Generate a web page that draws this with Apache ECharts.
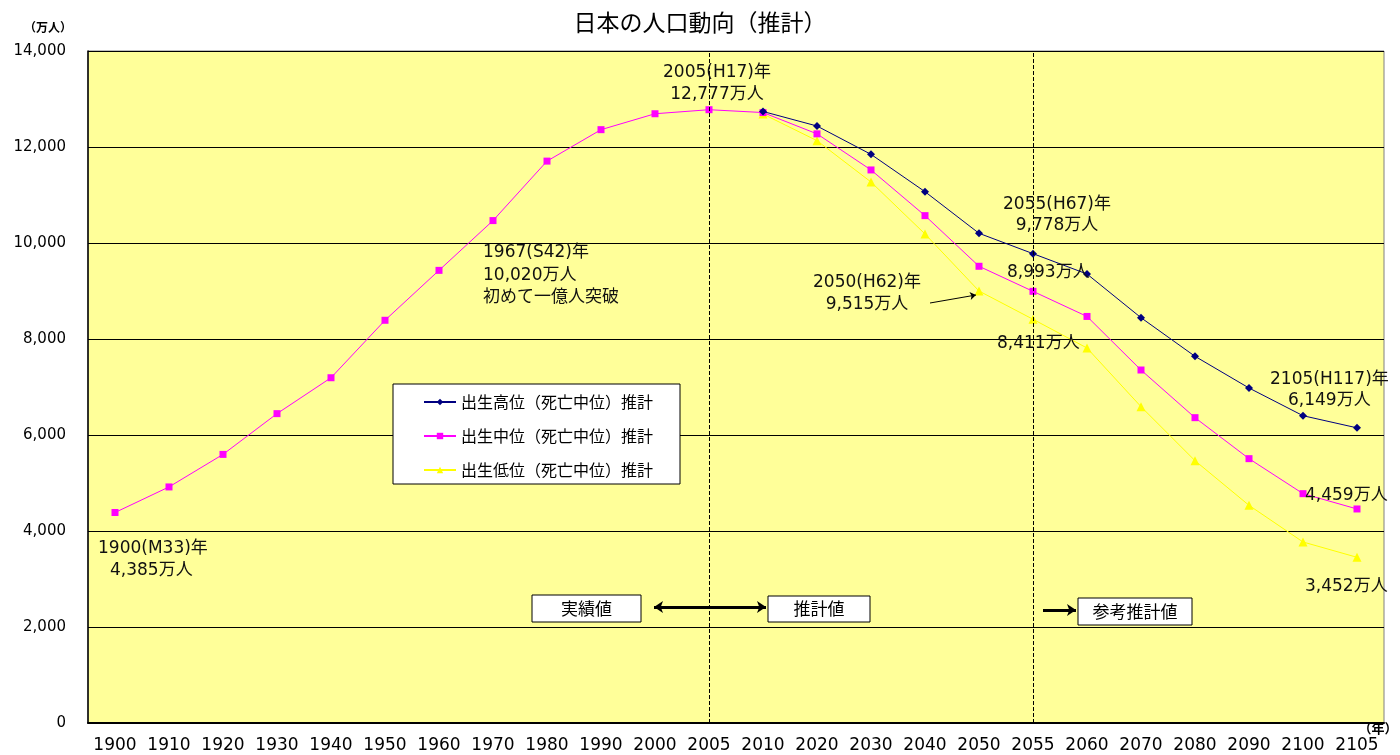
<!DOCTYPE html>
<html>
<head>
<meta charset="utf-8">
<title>日本の人口動向（推計）</title>
<script src="https://cdn.jsdelivr.net/npm/echarts@6/dist/echarts.min.js"></script>
<style>
    html, body { margin: 0; padding: 0; background: #fff; }
    #chart-container { width: 1400px; height: 755px; }
</style>
</head>
<body>
<div id="chart-container"></div>
<script>
// 年（カテゴリ）
const years = ['1900', '1910', '1920', '1930', '1940', '1950', '1960', '1970', '1980', '1990', '2000', '2005',
    '2010', '2020', '2030', '2040', '2050', '2055', '2060', '2070', '2080', '2090', '2100', '2105'];

// 出生高位（死亡中位）推計
const highSeries = [null, null, null, null, null, null, null, null, null, null, null, null,
    12740, 12437, 11847, 11069, 10202, 9778, 9354, 8444, 7639, 6979, 6402, 6149];

// 出生中位（死亡中位）推計（実績値を含む）
const midSeries = [4385, 4918, 5596, 6445, 7193, 8390, 9430, 10467, 11706, 12361, 12693, 12777,
    12718, 12274, 11522, 10570, 9515, 8993, 8470, 7354, 6361, 5507, 4778, 4459];

// 出生低位（死亡中位）推計
const lowSeries = [null, null, null, null, null, null, null, null, null, null, null, null,
    12687, 12132, 11271, 10188, 9000, 8411, 7812, 6590, 5465, 4535, 3771, 3452];

const seriesNames = ['出生高位（死亡中位）推計', '出生中位（死亡中位）推計', '出生低位（死亡中位）推計'];

const chart = echarts.init(document.getElementById('chart-container'));

const numFont = "17px 'DejaVu Sans', 'Noto Sans CJK JP', sans-serif";

// 注記テキスト
const note = (text, x, y, align) => ({
    type: 'text',
    x: x,
    y: y,
    z: 10,
    style: {
        text: text,
        font: numFont,
        fill: '#111',
        textAlign: align || 'left',
        textVerticalAlign: 'middle'
    }
});

// 枠付きラベル
const boxLabel = (text, x, y, w, h) => ({
    type: 'group',
    z: 10,
    children: [
        {
            type: 'rect',
            shape: { x: x, y: y, width: w, height: h },
            style: { fill: '#fff', stroke: '#000', lineWidth: 1 }
        },
        {
            type: 'text',
            x: x + w / 2,
            y: y + h / 2,
            style: {
                text: text,
                font: "17px 'Noto Sans CJK JP', sans-serif",
                fill: '#000',
                textAlign: 'center',
                textVerticalAlign: 'middle'
            }
        }
    ]
});

const solidArrow = { color: '#000', width: 3, type: 'solid' };

const option = {
    animation: false,
    backgroundColor: '#fff',
    title: {
        text: '日本の人口動向（推計）',
        left: 'center',
        top: 6,
        textStyle: {
            fontSize: 23,
            fontWeight: 'normal',
            fontFamily: "'Noto Sans CJK JP', sans-serif",
            color: '#000'
        }
    },
    legend: {
        data: seriesNames,
        orient: 'vertical',
        left: 418,
        top: 389,
        itemWidth: 32,
        itemHeight: 8,
        itemGap: 18,
        z: 6,
        textStyle: {
            fontSize: 16,
            fontFamily: "'Noto Sans CJK JP', sans-serif",
            color: '#000'
        }
    },
    grid: {
        left: 88,
        right: 16,
        top: 51,
        bottom: 32,
        show: true,
        backgroundColor: '#ffff99',
        borderColor: '#808080',
        borderWidth: 1
    },
    xAxis: {
        type: 'category',
        data: years,
        boundaryGap: true,
        axisLine: { lineStyle: { color: '#000', width: 2 } },
        axisTick: { inside: true, length: 5, interval: 0, lineStyle: { color: '#000' } },
        axisLabel: {
            interval: 0,
            margin: 14,
            fontSize: 17,
            fontFamily: "'DejaVu Sans', sans-serif",
            color: '#000'
        }
    },
    yAxis: {
        type: 'value',
        min: 0,
        max: 14000,
        interval: 2000,
        axisLine: { show: true, lineStyle: { color: '#000', width: 1.5 } },
        axisTick: { show: true, inside: true, length: 4, lineStyle: { color: '#000' } },
        splitLine: { lineStyle: { color: '#000', width: 1 } },
        axisLabel: {
            margin: 22,
            fontSize: 15,
            fontFamily: "'DejaVu Sans', sans-serif",
            color: '#000',
            formatter: (v) => v.toLocaleString('en-US')
        }
    },
    graphic: [
        // 凡例の枠
        {
            type: 'rect',
            z: 5,
            shape: { x: 393, y: 384, width: 287, height: 100 },
            style: { fill: '#fff', stroke: '#000', lineWidth: 1 }
        },
        {
            type: 'text', x: 48, y: 27, z: 10,
            style: { text: '（万人）', font: "bold 12px 'Noto Sans CJK JP', sans-serif", fill: '#000', textAlign: 'center', textVerticalAlign: 'middle' }
        },
        {
            type: 'text', x: 1378, y: 728, z: 10,
            style: { text: '（年）', font: "bold 13px 'Noto Sans CJK JP', sans-serif", fill: '#000', textAlign: 'center', textVerticalAlign: 'middle' }
        },
        note('2005(H17)年', 717, 73, 'center'),
        note('12,777万人', 717, 95, 'center'),
        note('1967(S42)年', 483, 253),
        note('10,020万人', 483, 276),
        note('初めて一億人突破', 483, 298),
        note('2055(H67)年', 1057, 205, 'center'),
        note('9,778万人', 1057, 226, 'center'),
        note('8,993万人', 1007, 273),
        note('2050(H62)年', 867, 283, 'center'),
        note('9,515万人', 867, 305, 'center'),
        note('8,411万人', 997, 344),
        note('2105(H117)年', 1270, 380),
        note('6,149万人', 1288, 401),
        note('4,459万人', 1305, 496),
        note('3,452万人', 1305, 587),
        note('1900(M33)年', 98, 549),
        note('4,385万人', 110, 571),
        boxLabel('実績値', 532, 595, 109, 27),
        boxLabel('推計値', 768, 596, 102, 26),
        boxLabel('参考推計値', 1078, 598, 114, 27)
    ],
    series: [
        {
            name: seriesNames[0],
            type: 'line',
            data: highSeries,
            symbol: 'diamond',
            symbolSize: 8,
            itemStyle: { color: '#000080' },
            lineStyle: { color: '#000080', width: 1 },
            z: 4
        },
        {
            name: seriesNames[1],
            type: 'line',
            data: midSeries,
            symbol: 'rect',
            symbolSize: 7,
            itemStyle: { color: '#ff00ff' },
            lineStyle: { color: '#ff00ff', width: 1 },
            z: 3,
            markLine: {
                silent: true,
                symbol: ['none', 'none'],
                label: { show: false },
                lineStyle: { type: 'dashed', color: '#000', width: 1 },
                data: [
                    { xAxis: '2005' },
                    { xAxis: '2055' },
                    [
                        { x: 654, y: 607, symbol: 'arrow', symbolSize: 9 },
                        { x: 766, y: 607, symbol: 'arrow', symbolSize: 9, lineStyle: solidArrow }
                    ],
                    [
                        { x: 1043, y: 610, symbol: 'none' },
                        { x: 1076, y: 610, symbol: 'arrow', symbolSize: 9, lineStyle: solidArrow }
                    ],
                    [
                        { x: 930, y: 303, symbol: 'none' },
                        { x: 976, y: 295, symbol: 'arrow', symbolSize: 6, lineStyle: { color: '#000', width: 1, type: 'solid' } }
                    ]
                ]
            }
        },
        {
            name: seriesNames[2],
            type: 'line',
            data: lowSeries,
            symbol: 'triangle',
            symbolSize: 9,
            itemStyle: { color: '#ffff00' },
            lineStyle: { color: '#ffff00', width: 1 },
            z: 2
        }
    ]
};

chart.setOption(option);
window.addEventListener('resize', () => chart.resize());
</script>
</body>
</html>
